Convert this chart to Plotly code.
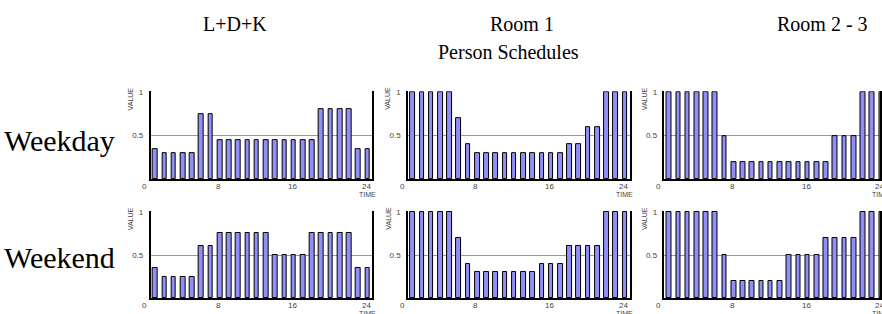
import plotly.graph_objects as go

# ---------------- data ----------------
hours = list(range(1, 25))

col_titles = ["L+D+K", "Room 1", "Room 2 - 3"]
row_titles = ["Weekday", "Weekend"]
main_title = "Person Schedules"

weekday_ldk = [0.35, 0.30, 0.30, 0.30, 0.30, 0.75, 0.75, 0.45, 0.45, 0.45, 0.45, 0.45,
               0.45, 0.45, 0.45, 0.45, 0.45, 0.45, 0.80, 0.80, 0.80, 0.80, 0.35, 0.35]
weekday_room1 = [1.0, 1.0, 1.0, 1.0, 1.0, 0.7, 0.4, 0.3, 0.3, 0.3, 0.3, 0.3,
                 0.3, 0.3, 0.3, 0.3, 0.3, 0.4, 0.4, 0.6, 0.6, 1.0, 1.0, 1.0]
weekday_room23 = [1.0, 1.0, 1.0, 1.0, 1.0, 1.0, 0.5, 0.2, 0.2, 0.2, 0.2, 0.2,
                  0.2, 0.2, 0.2, 0.2, 0.2, 0.2, 0.5, 0.5, 0.5, 1.0, 1.0, 1.0]
weekend_ldk = [0.35, 0.25, 0.25, 0.25, 0.25, 0.60, 0.60, 0.75, 0.75, 0.75, 0.75, 0.75,
               0.75, 0.50, 0.50, 0.50, 0.50, 0.75, 0.75, 0.75, 0.75, 0.75, 0.35, 0.35]
weekend_room1 = [1.0, 1.0, 1.0, 1.0, 1.0, 0.7, 0.4, 0.3, 0.3, 0.3, 0.3, 0.3,
                 0.3, 0.3, 0.4, 0.4, 0.4, 0.6, 0.6, 0.6, 0.6, 1.0, 1.0, 1.0]
weekend_room23 = [1.0, 1.0, 1.0, 1.0, 1.0, 1.0, 0.5, 0.2, 0.2, 0.2, 0.2, 0.2,
                  0.2, 0.5, 0.5, 0.5, 0.5, 0.7, 0.7, 0.7, 0.7, 1.0, 1.0, 1.0]

x_tickvals = [0, 8, 16, 24]
x_ticktext = ["0", "8", "16", "24"]
y_tickvals = [0.5, 1]
y_ticktext = ["0.5", "1"]
x_axis_label = "TIME"
y_axis_label = "VALUE"

series = [weekday_ldk, weekday_room1, weekday_room23,
          weekend_ldk, weekend_room1, weekend_room23]

# ---------------- layout geometry ----------------
W, H = 882, 314
col_px = [(151, 373), (409, 631), (666, 882)]
row_px = [(89, 178), (210, 298)]
px_per_hour = (373 - 151) / 24.0

BAR_FILL = "#8f8ff7"
SERIF = "Liberation Serif, Times New Roman, serif"
SANS = "Liberation Sans, Arial, sans-serif"
TICK_COLOR = "#444444"

fig = go.Figure()
layout_axes = {}
annotations = []

for i, vals in enumerate(series):
    r, c = divmod(i, 3)
    n = i + 1
    xa = "x" if n == 1 else f"x{n}"
    ya = "y" if n == 1 else f"y{n}"
    fig.add_trace(go.Bar(
        x=hours, y=vals, xaxis=xa, yaxis=ya,
        width=0.5, offset=-0.75,
        marker=dict(color=BAR_FILL, line=dict(color="black", width=1)),
        showlegend=False, hoverinfo="x+y",
    ))
    x0, x1 = col_px[c]
    y0, y1 = row_px[r]
    xr_max = (x1 - x0) / px_per_hour
    layout_axes[f"xaxis{'' if n == 1 else n}"] = dict(
        domain=[x0 / W, x1 / W], anchor=ya,
        range=[0, xr_max], tickvals=x_tickvals, showticklabels=False,
        showgrid=False, zeroline=False, showline=True, linecolor="black", linewidth=2,
        ticks="", fixedrange=True,
    )
    layout_axes[f"yaxis{'' if n == 1 else n}"] = dict(
        domain=[(H - y1) / H, (H - y0) / H], anchor=xa,
        range=[0, 1.01], tickvals=y_tickvals, ticktext=y_ticktext,
        tickfont=dict(family=SANS, size=8, color=TICK_COLOR),
        showgrid=True, gridcolor="#999999", gridwidth=1,
        zeroline=False, showline=True, linecolor="black", linewidth=1.5, mirror=True,
        ticks="", ticklabelstandoff=4, fixedrange=True,
    )

    def to_paper_x(v, _x0=x0):
        return (_x0 + v * px_per_hour) / W

    # x tick labels (placed close under the axis, shifted left like the original)
    for tv, tt in zip(x_tickvals, x_ticktext):
        annotations.append(dict(
            text=tt, xref="paper", yref="paper", x=to_paper_x(tv), y=(H - y1) / H,
            xshift=-6, yshift=-1, xanchor="center", yanchor="top", showarrow=False,
            font=dict(family=SANS, size=8, color=TICK_COLOR),
        ))
    # axis labels
    annotations.append(dict(
        text=y_axis_label, xref="paper", yref="paper",
        x=(x0 - 20) / W, y=(H - y0 + 6) / H, textangle=-90,
        xanchor="center", yanchor="top", showarrow=False,
        font=dict(family=SANS, size=7, color=TICK_COLOR),
    ))
    annotations.append(dict(
        text=x_axis_label, xref="paper", yref="paper",
        x=to_paper_x(x_tickvals[-1]), y=(H - y1 - 10) / H, xshift=-5,
        xanchor="center", yanchor="top", showarrow=False,
        font=dict(family=SANS, size=7, color=TICK_COLOR),
    ))

col_centers = [236, 523, 824]
for t, cx in zip(col_titles, col_centers):
    annotations.append(dict(
        text=t, xref="paper", yref="paper", x=cx / W, y=(H - 21) / H,
        xanchor="center", yanchor="middle", showarrow=False,
        font=dict(family=SERIF, size=20, color="black"),
    ))
annotations.append(dict(
    text=main_title, xref="paper", yref="paper", x=510 / W, y=(H - 49) / H,
    xanchor="center", yanchor="middle", showarrow=False,
    font=dict(family=SERIF, size=20, color="black"),
))
for t, cy in zip(row_titles, [139, 257]):
    annotations.append(dict(
        text=t, xref="paper", yref="paper", x=60 / W, y=(H - cy) / H,
        xanchor="center", yanchor="middle", showarrow=False,
        font=dict(family=SERIF, size=30, color="black"),
    ))

fig.update_layout(
    width=W, height=H, margin=dict(l=0, r=0, t=0, b=0),
    paper_bgcolor="white", plot_bgcolor="white",
    bargap=0, annotations=annotations, **layout_axes,
)

fig.write_html(
    "out.html",
    config={"displayModeBar": False},
    post_script="document.body.style.margin='0';document.body.style.overflow='hidden';",
)
